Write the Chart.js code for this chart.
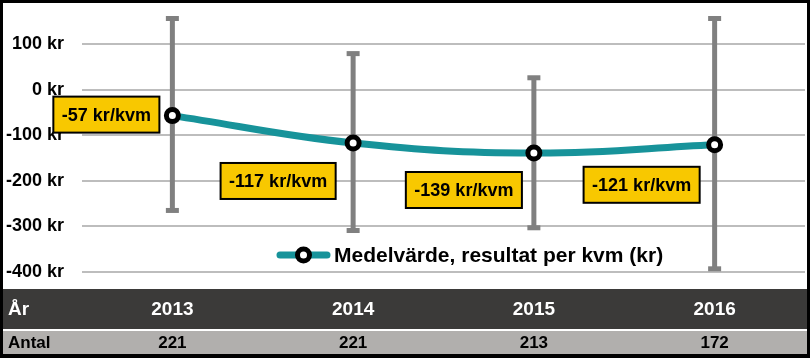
<!DOCTYPE html>
<html><head><meta charset="utf-8">
<script src="https://cdn.jsdelivr.net/npm/chart.js@4"></script>
<style>
html,body{margin:0;padding:0;background:#fff}
#wrap{position:relative;width:810px;height:358px;background:#000}
#box{position:absolute;left:3px;top:3px;width:804px;height:351px;background:#fff}
canvas{display:block}
</style></head><body>
<div id="wrap"><div id="box"><canvas id="c" width="804" height="351"></canvas></div></div>
<script>
const years = ['2013', '2014', '2015', '2016'];
const meanValues = [-57, -117, -139, -121];
const lowValues = [-265, -309, -303, -393];
const highValues = [156, 79, 26, 156];
const counts = [221, 221, 213, 172];
const yTickValues = [-400, -300, -200, -100, 0, 100];
const seriesName = 'Medelvärde, resultat per kvm (kr)';
const rowHeaderYear = 'År';
const rowHeaderCount = 'Antal';

const FONT = '"Liberation Sans", Arial, sans-serif';
const TEAL = '#17939a';

const errorBarPlugin = {
  id: 'errorBars',
  beforeDatasetsDraw(chart) {
    const ctx = chart.ctx, xs = chart.scales.x, ys = chart.scales.y;
    ctx.save();
    ctx.strokeStyle = '#808080';
    ctx.fillStyle = '#808080';
    ctx.lineWidth = 5;
    years.forEach((y, i) => {
      const x = xs.getPixelForValue(i);
      const yt = ys.getPixelForValue(highValues[i]);
      const yb = ys.getPixelForValue(lowValues[i]);
      ctx.beginPath(); ctx.moveTo(x, yt); ctx.lineTo(x, yb); ctx.stroke();
      ctx.fillRect(x - 6.5, yt - 2.5, 13, 5);
      ctx.fillRect(x - 6.5, yb - 2.5, 13, 5);
    });
    ctx.restore();
  }
};

const labelOffsets = [[-66, -1], [-75, 38], [-70, 37], [-73, 40]];
const valueLabelPlugin = {
  id: 'valueLabels',
  afterDatasetsDraw(chart) {
    const ctx = chart.ctx;
    const meta = chart.getDatasetMeta(0);
    ctx.save();
    ctx.font = 'bold 18px ' + FONT;
    ctx.textBaseline = 'middle';
    ctx.textAlign = 'center';
    meta.data.forEach((pt, i) => {
      const txt = meanValues[i] + ' kr/kvm';
      const w = ctx.measureText(txt).width + 17;
      const h = 36;
      const cx = pt.x + labelOffsets[i][0], cy = pt.y + labelOffsets[i][1];
      ctx.fillStyle = '#f8c800';
      ctx.fillRect(cx - w / 2, cy - h / 2, w, h);
      ctx.lineWidth = 2;
      ctx.strokeStyle = '#000';
      ctx.strokeRect(cx - w / 2, cy - h / 2, w, h);
      ctx.fillStyle = '#000';
      ctx.fillText(txt, cx, cy + 1);
    });
    ctx.restore();
  }
};

const legendPlugin = {
  id: 'customLegend',
  afterDraw(chart) {
    const ctx = chart.ctx;
    const ly = 252, lx0 = 277, lx1 = 324;
    ctx.save();
    ctx.strokeStyle = TEAL; ctx.lineWidth = 7; ctx.lineCap = 'round';
    ctx.beginPath(); ctx.moveTo(lx0, ly); ctx.lineTo(lx1, ly); ctx.stroke();
    ctx.beginPath(); ctx.arc((lx0 + lx1) / 2, ly, 6, 0, Math.PI * 2);
    ctx.fillStyle = '#fff'; ctx.fill();
    ctx.lineWidth = 5; ctx.strokeStyle = '#000'; ctx.stroke();
    ctx.fillStyle = '#000';
    ctx.font = 'bold 21px ' + FONT;
    ctx.textBaseline = 'middle'; ctx.textAlign = 'left';
    ctx.fillText(seriesName, 331, ly + 1);
    ctx.restore();
  }
};

const tablePlugin = {
  id: 'dataTable',
  afterDraw(chart) {
    const ctx = chart.ctx, xs = chart.scales.x;
    const W = chart.width;
    ctx.save();
    ctx.fillStyle = '#3b3a39';
    ctx.fillRect(0, 286, W, 40);
    ctx.fillStyle = '#b1afad';
    ctx.fillRect(0, 328, W, 23);
    ctx.textBaseline = 'middle';
    ctx.fillStyle = '#fff';
    ctx.font = 'bold 19px ' + FONT;
    ctx.textAlign = 'left';
    ctx.fillText(rowHeaderYear, 5, 307);
    ctx.textAlign = 'center';
    years.forEach((y, i) => ctx.fillText(y, xs.getPixelForValue(i), 307));
    ctx.fillStyle = '#000';
    ctx.font = 'bold 17px ' + FONT;
    ctx.textAlign = 'left';
    ctx.fillText(rowHeaderCount, 5, 340);
    ctx.textAlign = 'center';
    counts.forEach((c, i) => ctx.fillText(String(c), xs.getPixelForValue(i), 340));
    ctx.restore();
  }
};

new Chart(document.getElementById('c'), {
  type: 'line',
  data: {
    labels: years,
    datasets: [{
      label: seriesName,
      data: meanValues,
      borderColor: TEAL,
      borderWidth: 7,
      tension: 0.4,
      pointRadius: 6,
      pointBorderWidth: 5,
      pointBorderColor: '#000',
      pointBackgroundColor: '#fff',
      pointHoverRadius: 6,
      clip: false
    }]
  },
  options: {
    responsive: false,
    animation: false,
    devicePixelRatio: 1,
    layout: { autoPadding: false, padding: { left: 0, right: 2, top: 0, bottom: 82 } },
    plugins: { legend: { display: false }, tooltip: { enabled: false } },
    scales: {
      x: {
        type: 'category', offset: true, display: false,
        afterFit(scale) { scale.paddingLeft = 0; scale.paddingRight = 0; scale.height = 0; }
      },
      y: {
        min: -400, max: 190,
        afterBuildTicks(scale) {
          scale.ticks = yTickValues.map(v => ({ value: v }));
        },
        afterFit(scale) { scale.width = 79; scale.paddingTop = 0; scale.paddingBottom = 0; },
        border: { display: false },
        grid: { color: '#bdbdbd', lineWidth: 2, drawTicks: false },
        ticks: {
          padding: 18,
          color: '#000',
          font: { family: FONT, size: 18, weight: 'bold' },
          callback: v => v + ' kr'
        }
      }
    }
  },
  plugins: [errorBarPlugin, valueLabelPlugin, legendPlugin, tablePlugin]
});
</script>
</body></html>
